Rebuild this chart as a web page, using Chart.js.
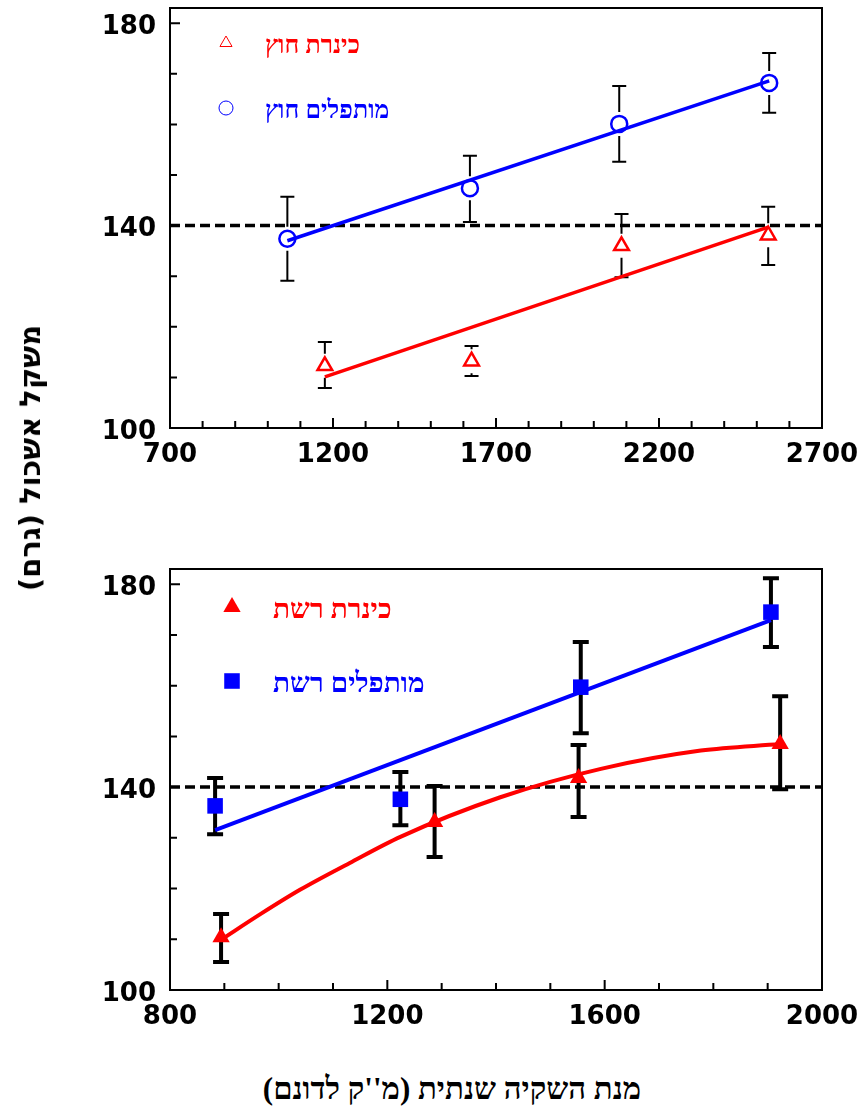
<!DOCTYPE html>
<html>
<head>
<meta charset="utf-8">
<script src="https://cdn.jsdelivr.net/npm/chart.js@4.4.1/dist/chart.umd.min.js"></script>
<style>
  body { margin: 0; background: #fff; }
  #page { position: relative; width: 865px; height: 1115px; overflow: hidden; background: #fff; }
  canvas { position: absolute; left: 0; }
  #c1 { top: -30px; }
  #c2 { top: 520px; }
  .ttl { position: absolute; white-space: nowrap; color: #000; }
  #ytitle { left: 30px; top: 458px; transform: translate(-50%, -50%) rotate(-90deg);
            font: bold 29px "DejaVu Sans", sans-serif; }
  #xtitle { left: 452px; top: 1089px; transform: translate(-50%, -50%);
            font: bold 31px "Liberation Serif", "DejaVu Serif", serif; }
</style>
</head>
<body>
<div id="page">
  <canvas id="c1" width="865" height="510"></canvas>
  <canvas id="c2" width="865" height="540"></canvas>
  <div id="ytitle" class="ttl" dir="rtl">משקל אשכול (גרם)</div>
  <div id="xtitle" class="ttl" dir="rtl">מנת השקיה שנתית (מ''ק לדונם)</div>
</div>
<script>
// top panel - outdoor (חוץ)
const topXTicks = [700, 1200, 1700, 2200, 2700];
const topYTicks = [100, 140, 180];
const kinOutX = [1175, 1625, 2085, 2535];
const kinOutY = [112.3, 113.2, 136.0, 138.1];
const kinOutHi = [117.0, 116.2, 142.3, 143.7];
const kinOutLo = [107.9, 110.3, 129.8, 132.2];
const kinOutFitX = [1175, 2535];
const kinOutFitY = [110.1, 139.7];
const desOutX = [1060, 1620, 2078, 2538];
const desOutY = [137.4, 147.4, 160.1, 168.2];
const desOutHi = [145.7, 153.8, 167.6, 174.1];
const desOutLo = [129.1, 140.7, 152.6, 162.3];
const desOutFitX = [1060, 2538];
const desOutFitY = [137.0, 168.6];

// bottom panel - net house (רשת)
const botXTicks = [800, 1200, 1600, 2000];
const botYTicks = [100, 140, 180];
const kinNetX = [894, 1287, 1552, 1923];
const kinNetY = [110.4, 133.1, 141.8, 148.5];
const kinNetHi = [115.0, 140.2, 148.3, 157.9];
const kinNetLo = [105.5, 126.2, 134.1, 139.6];
const kinNetFitX = [894, 967, 1040, 1130, 1224, 1408, 1593, 1777, 1923];
const kinNetFitY = [109.9, 115.0, 119.8, 125.0, 130.2, 138.0, 143.6, 147.2, 148.5];
const desNetX = [883, 1224, 1556, 1906];
const desNetY = [136.3, 137.6, 159.7, 174.5];
const desNetHi = [141.8, 143.0, 168.6, 181.2];
const desNetLo = [130.7, 132.5, 150.6, 167.6];
const desNetFitX = [883, 1906];
const desNetFitY = [131.5, 172.9];

const refLevel = 140;
const RED = '#ff0000';
const BLUE = '#0000ff';

const pts = (xs, ys) => xs.map((x, i) => ({x: x, y: ys[i]}));

// error bars, drawn under the markers
const errorBars = {
  id: 'errorBars',
  beforeDatasetsDraw(chart, args, o) {
    const ctx = chart.ctx;
    const y = chart.scales.y;
    chart.data.datasets.forEach((ds, i) => {
      if (!ds.errHi) return;
      ctx.save();
      ctx.strokeStyle = '#000';
      ctx.lineWidth = o.width;
      chart.getDatasetMeta(i).data.forEach((el, j) => {
        const yh = y.getPixelForValue(ds.errHi[j]);
        const yl = y.getPixelForValue(ds.errLo[j]);
        ctx.beginPath();
        if (el.y - o.gap > yh) { ctx.moveTo(el.x, yh); ctx.lineTo(el.x, el.y - o.gap); }
        if (el.y + o.gap < yl) { ctx.moveTo(el.x, el.y + o.gap); ctx.lineTo(el.x, yl); }
        ctx.moveTo(el.x - o.cap, yh); ctx.lineTo(el.x + o.cap, yh);
        ctx.moveTo(el.x - o.cap, yl); ctx.lineTo(el.x + o.cap, yl);
        ctx.stroke();
      });
      ctx.restore();
    });
  }
};

// box frame with inward ticks
const frame = {
  id: 'frame',
  afterDraw(chart, args, o) {
    const {ctx, chartArea: a, scales: {x, y}} = chart;
    ctx.save();
    ctx.strokeStyle = '#000';
    ctx.lineWidth = 2;
    ctx.strokeRect(a.left, a.top, a.right - a.left, a.bottom - a.top);
    ctx.beginPath();
    for (let v = x.min + o.xMinor; v < x.max; v += o.xMinor) {
      const px = x.getPixelForValue(v);
      const len = (v - x.min) % o.xMajor === 0 ? 10 : 7;
      ctx.moveTo(px, a.bottom); ctx.lineTo(px, a.bottom - len);
    }
    for (let v = y.min + o.yMinor; v <= 180; v += o.yMinor) {
      const py = y.getPixelForValue(v);
      const len = (v - y.min) % o.yMajor === 0 ? 10 : 7;
      ctx.moveTo(a.left, py); ctx.lineTo(a.left + len, py);
    }
    ctx.stroke();
    ctx.restore();
  }
};

// legend inside the plot
const legendBox = {
  id: 'legendBox',
  afterDraw(chart, args, o) {
    const {ctx, chartArea: a} = chart;
    ctx.save();
    o.items.forEach((it, k) => {
      const mx = a.left + o.markX, my = a.top + o.top + k * o.step;
      ctx.fillStyle = it.fill;
      ctx.strokeStyle = it.color;
      Chart.helpers.drawPoint(ctx, {pointStyle: it.style, radius: it.radius, rotation: 0, borderWidth: it.bw}, mx, my);
      ctx.fillStyle = it.color;
      ctx.font = 'bold ' + o.size + 'px "Liberation Serif", "DejaVu Serif", serif';
      ctx.textAlign = 'left';
      ctx.textBaseline = 'middle';
      ctx.fillText(it.text, a.left + o.textX, my + 4);
    });
    ctx.restore();
  }
};

const tickFont = {family: '"DejaVu Sans", sans-serif', size: 26, weight: 'bold'};

function axes(xmin, xmax, xTicks, yTicks, xh) {
  return {
    x: {
      type: 'linear', min: xmin, max: xmax,
      afterBuildTicks: s => { s.ticks = xTicks.map(v => ({value: v})); },
      afterFit: s => { s.height = xh; s.paddingRight = 0; s.paddingLeft = 0; },
      grid: {display: false, drawTicks: false},
      border: {display: false},
      ticks: {font: tickFont, color: '#000', padding: 12, maxRotation: 0, autoSkip: false,
              callback: v => String(v)}
    },
    y: {
      type: 'linear', min: 100, max: 183,
      afterBuildTicks: s => { s.ticks = yTicks.map(v => ({value: v})); },
      afterFit: s => { s.width = 170; },
      grid: {display: false, drawTicks: false},
      border: {display: false},
      ticks: {font: tickFont, color: '#000', padding: 14, labelOffset: 4, autoSkip: false,
              callback: v => String(v)}
    }
  };
}

function markers(label, xs, ys, hi, lo, color, style, radius, fill, bw) {
  return {
    label: label, data: pts(xs, ys), errHi: hi, errLo: lo, showLine: false,
    pointStyle: style, pointRadius: radius, pointBorderColor: color,
    pointBackgroundColor: fill, pointBorderWidth: bw
  };
}

function fitLine(xs, ys, color, width, curved) {
  return {
    data: pts(xs, ys), showLine: true, pointRadius: 0, borderColor: color,
    borderWidth: width, tension: curved ? 0.4 : 0,
    cubicInterpolationMode: curved ? 'monotone' : 'default'
  };
}

function refLine(xmin, xmax) {
  return {
    data: [{x: xmin, y: refLevel}, {x: xmax, y: refLevel}], showLine: true,
    pointRadius: 0, borderColor: '#000', borderWidth: 3.5, borderDash: [10, 5]
  };
}

const common = {
  responsive: false, animation: false, devicePixelRatio: 1,
  events: []
};

new Chart(document.getElementById('c1'), {
  type: 'scatter',
  data: {
    datasets: [
      markers('כינרת חוץ', kinOutX, kinOutY, kinOutHi, kinOutLo, RED, 'triangle', 8.5, 'rgba(0,0,0,0)', 2.5),
      markers('מותפלים חוץ', desOutX, desOutY, desOutHi, desOutLo, BLUE, 'circle', 8, 'rgba(0,0,0,0)', 2.5),
      fitLine(kinOutFitX, kinOutFitY, RED, 3.5, false),
      fitLine(desOutFitX, desOutFitY, BLUE, 3.5, false),
      refLine(700, 2700)
    ]
  },
  options: Object.assign({}, common, {
    layout: {padding: {top: 38, right: 43, left: 0, bottom: 0}},
    plugins: {
      legend: {display: false}, tooltip: {enabled: false},
      errorBars: {width: 2, cap: 7, gap: 12},
      frame: {xMinor: 100, xMajor: 500, yMinor: 10, yMajor: 40},
      legendBox: {markX: 56, textX: 95, top: 35, step: 65, size: 25, items: [
        {text: 'כינרת חוץ', color: RED, style: 'triangle', radius: 7, fill: 'rgba(0,0,0,0)', bw: 2},
        {text: 'מותפלים חוץ', color: BLUE, style: 'circle', radius: 7, fill: 'rgba(0,0,0,0)', bw: 2}
      ]}
    },
    scales: axes(700, 2700, topXTicks, topYTicks, 52)
  }),
  plugins: [errorBars, frame, legendBox]
});

new Chart(document.getElementById('c2'), {
  type: 'scatter',
  data: {
    datasets: [
      markers('כינרת רשת', kinNetX, kinNetY, kinNetHi, kinNetLo, RED, 'triangle', 10, RED, 0),
      markers('מותפלים רשת', desNetX, desNetY, desNetHi, desNetLo, BLUE, 'rect', 11, BLUE, 0),
      fitLine(kinNetFitX, kinNetFitY, RED, 4, true),
      fitLine(desNetFitX, desNetFitY, BLUE, 4, false),
      refLine(800, 2000)
    ]
  },
  options: Object.assign({}, common, {
    layout: {padding: {top: 49, right: 43, left: 0, bottom: 0}},
    plugins: {
      legend: {display: false}, tooltip: {enabled: false},
      errorBars: {width: 4, cap: 8, gap: 0},
      frame: {xMinor: 100, xMajor: 400, yMinor: 10, yMajor: 40},
      legendBox: {markX: 62, textX: 103, top: 38, step: 74, size: 28, items: [
        {text: 'כינרת רשת', color: RED, style: 'triangle', radius: 10, fill: RED, bw: 0},
        {text: 'מותפלים רשת', color: BLUE, style: 'rect', radius: 11, fill: BLUE, bw: 0}
      ]}
    },
    scales: axes(800, 2000, botXTicks, botYTicks, 70)
  }),
  plugins: [errorBars, frame, legendBox]
});
</script>
</body>
</html>
